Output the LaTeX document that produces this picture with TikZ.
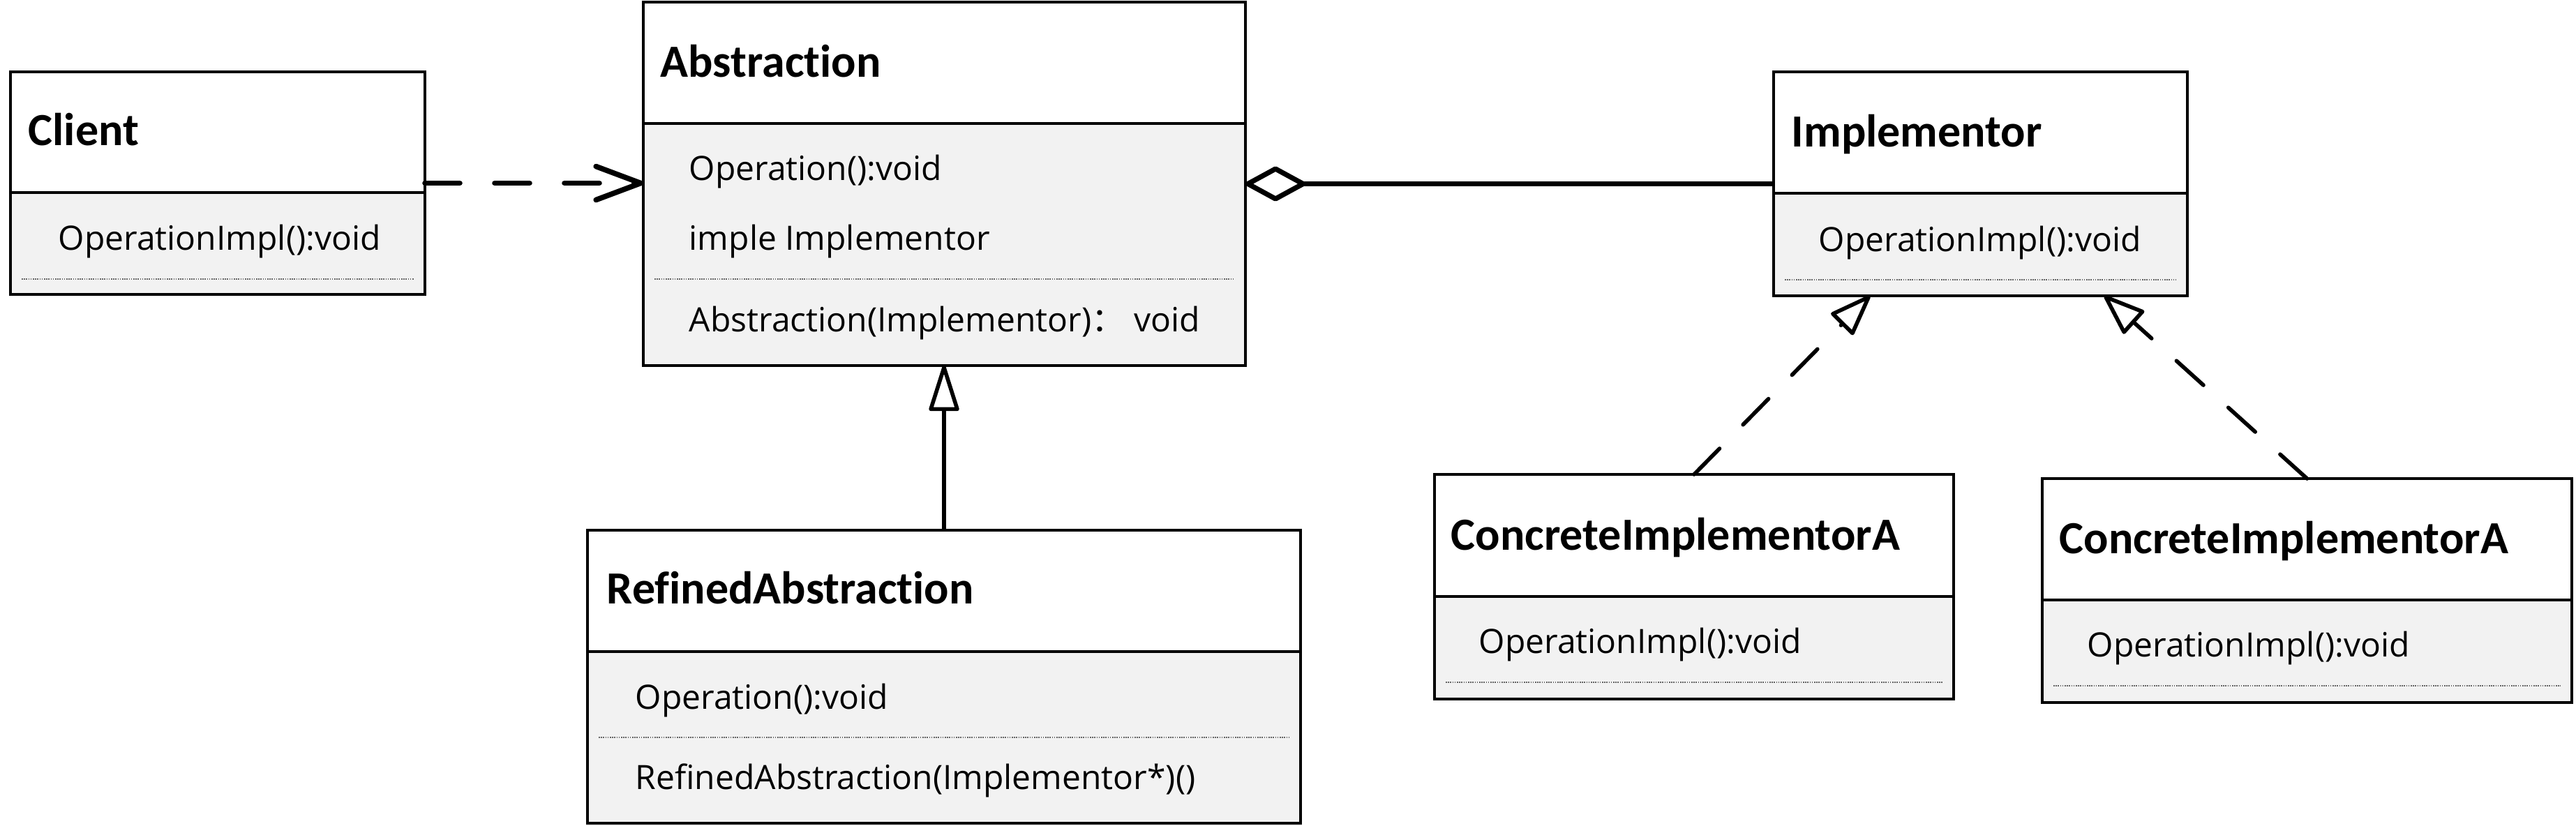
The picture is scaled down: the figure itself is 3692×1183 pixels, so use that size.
\documentclass[tikz,border=0pt]{standalone}
\usepackage{fontspec}
\setmainfont{Open Sans}
\newfontfamily\titlefont{Carlito}[Ligatures=CommonOff]
\newfontfamily\cjkfont{Noto Sans CJK SC}
\usetikzlibrary{arrows.meta,calc}
\definecolor{bodygray}{RGB}{242,242,242}
\definecolor{dotgray}{RGB}{100,100,100}
\newcommand\umlbox[7]{%
  \node[boxnode, minimum width={(#4-#2)*0.25pt}, minimum height={(#5-#3)*0.25pt}, anchor=north west] (#1) at (#2,#3) {};
  \fill[white] (#2,#3) rectangle (#4,#6);
  \draw[boxline] (#1.north west) rectangle (#1.south east);
  \draw[boxline] (#2,#6) -- (#4,#6);
  \draw[dotline] (#2+16,#7) -- (#4-16,#7);
}
\begin{document}
\begin{tikzpicture}[x=0.25pt,y=-0.25pt,
  boxnode/.style={rectangle, inner sep=0pt, outer sep=0pt, fill=bodygray, draw=none},
  boxline/.style={line width=1.1pt, draw=black},
  dotline/.style={line width=0.45pt, draw=dotgray, dash pattern=on 0.4pt off 0.4pt},
  titletext/.style={inner sep=0pt, anchor=base west, font=\titlefont\bfseries\fontsize{16.5pt}{19pt}\selectfont},
  membertext/.style={inner sep=0pt, anchor=base west, font=\fontsize{12pt}{14pt}\selectfont},
  depline/.style={line width=1.9pt, line cap=round, dash pattern=on 12.5pt off 12.5pt,
    -{Straight Barb[length=16pt, width=12pt, round]}},
  aggline/.style={line width=1.8pt, {Diamond[open, length=23.5pt, width=12.8pt, round]}-},
  genline/.style={line width=1.3pt, -{Triangle[open, length=18pt, width=11pt, line width=1.4pt, round]}},
  realline/.style={line width=1.4pt, line cap=round, dash pattern=on 13pt off 12pt,
    -{Triangle[open, length=16pt, width=11.5pt, line width=1.4pt, round]}}
]
\useasboundingbox (0,0) rectangle (3692,1183);

% boxes
\umlbox{client}{15}{103}{609}{422}{276}{400}
\umlbox{abstr}{922}{3}{1785}{524}{177}{400}
\umlbox{impl}{2542}{103}{3135}{424}{277}{401}
\umlbox{refined}{842}{760}{1864}{1180}{934}{1057}
\umlbox{ciaone}{2056}{680}{2800}{1002}{855}{978}
\umlbox{ciatwo}{2927}{686}{3686}{1007}{860}{983}

% texts
\node[titletext] (client-t) at (40,208) {Client};
\node[membertext] (client-m1) at (83,358) {OperationImpl():void};

\node[titletext] (abstr-t) at (946,110) {Abstraction};
\node[membertext] (abstr-m1) at (987,258) {Operation():void};
\node[membertext] (abstr-m2) at (987,358) {imple Implementor};
\node[membertext] (abstr-m3) at (987,475) {Abstraction(Implementor){\cjkfont ：} void};

\node[titletext] (impl-t) at (2567,210) {Implementor};
\node[membertext] (impl-m1) at (2606,360) {OperationImpl():void};

\node[titletext] (refined-t) at (869,865) {RefinedAbstraction};
\node[membertext] (refined-m1) at (910,1016) {Operation():void};
\node[membertext] (refined-m2) at (910,1131) {RefinedAbstraction(Implementor*)()};

\node[titletext] (ciaone-t) at (2079,788) {ConcreteImplementorA};
\node[membertext] (ciaone-m1) at (2119,936) {OperationImpl():void};

\node[titletext] (ciatwo-t) at (2951,793) {ConcreteImplementorA};
\node[membertext] (ciatwo-m1) at (2991,941) {OperationImpl():void};

% connectors
\draw[depline] (client.east) -- (client.east -| abstr.west);
\draw[aggline] (impl.west -| abstr.east) -- (impl.west);
\draw[genline] (refined.north) -- (refined.north |- abstr.south);
\coordinate (implA) at ($(impl.south west)+(138,0)$);
\coordinate (implB) at ($(impl.south west)+(474,0)$);
\draw[realline] (ciaone.north) -- (implA);
\draw[realline] (ciatwo.north) -- (implB);
\end{tikzpicture}
\end{document}
